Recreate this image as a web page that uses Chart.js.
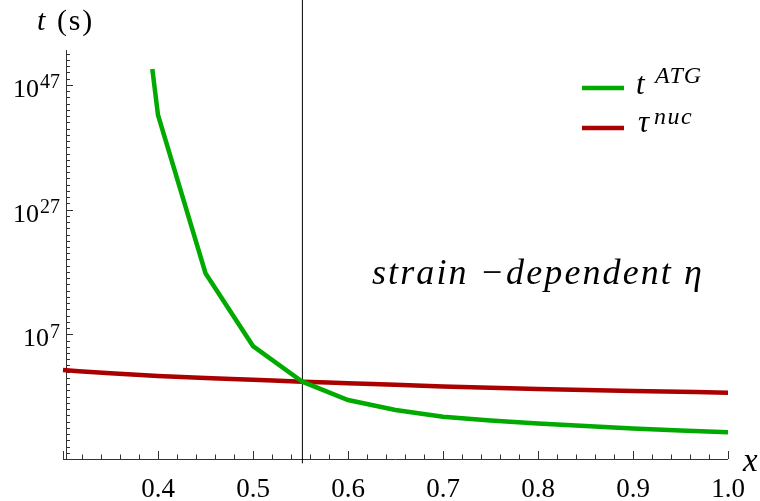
<!DOCTYPE html>
<html><head><meta charset="utf-8">
<script src="https://cdn.jsdelivr.net/npm/chart.js@4.4.1/dist/chart.umd.min.js"></script>
<style>html,body{margin:0;padding:0;background:#fff}#wrap{width:760px;height:501px}</style>
</head><body><div id="wrap"><canvas id="c" width="760" height="501"></canvas></div>
<script>
// ---- data ----
const xATG   = [0.394, 0.4, 0.45, 0.5, 0.552, 0.6, 0.65, 0.7, 0.75, 0.8, 0.85, 0.9, 0.95, 1.0];
const tATG   = [3.6e49, 1.5e42, 6.2e16, 1.3e5, 0.25, 2.9e-4, 7.1e-6, 6.0e-7, 1.5e-7, 4.9e-8, 1.95e-8, 7.8e-9, 3.7e-9, 1.9e-9];
const xNuc   = [0.3, 0.35, 0.4, 0.45, 0.5, 0.552, 0.6, 0.65, 0.7, 0.8, 0.9, 1.0];
const tauNuc = [18.2, 5.5, 2.0, 0.98, 0.51, 0.25, 0.145, 0.078, 0.044, 0.0166, 0.0079, 0.0044];
const markerX = 0.552;
const markerY = [2e-14, 1e61];
const xTickValues = [0.3, 0.4, 0.5, 0.6, 0.7, 0.8, 0.9, 1.0];
const xMinorStep = 0.02;
const yTickExponents = [7, 27, 47];
const yMinExp = -13, yMaxExp = 52;
const xMin = 0.3, xMax = 1.0;
const yMin = 1e-13, yMax = 4e52;
const annotationText = 'strain \u2212dependent \u03b7';

const GREEN = '#00aa00', RED = '#aa0000';
const SERIF = '"Liberation Serif", "Times New Roman", serif';

const pts = (xs, ys) => xs.map((x, i) => ({x: x, y: ys[i]}));

function fitText(ctx, text, x, y, width) {
  ctx.letterSpacing = '0px';
  const w = ctx.measureText(text).width;
  const n = Array.from(text).length;
  ctx.letterSpacing = ((width - w) / n).toFixed(2) + 'px';
  ctx.fillText(text, x, y);
  ctx.letterSpacing = '0px';
}

const decor = {
  id: 'decor',
  beforeDatasetsDraw(chart) {
    const ctx = chart.ctx, xs = chart.scales.x, ys = chart.scales.y, a = chart.chartArea;
    const axX = a.left + 3, axY = a.bottom;
    ctx.save();
    ctx.strokeStyle = '#333'; ctx.lineWidth = 1;
    ctx.beginPath();
    ctx.moveTo(axX + 0.5, a.top); ctx.lineTo(axX + 0.5, axY);
    ctx.moveTo(a.left, axY + 0.5); ctx.lineTo(a.right, axY + 0.5);
    ctx.stroke();
    ctx.beginPath();
    for (let k = 0; k <= 35; k++) {
      const v = xMin + k * xMinorStep;
      if (v > xMax + 1e-9) break;
      const px = Math.round(xs.getPixelForValue(v)) + 0.5;
      const major = (k % 5 === 0);
      ctx.moveTo(px, axY); ctx.lineTo(px, axY - (major ? 8 : 4.5));
    }
    for (let e = yMinExp; e <= yMaxExp; e++) {
      const py = Math.round(ys.getPixelForValue(Math.pow(10, e))) + 0.5;
      if (py < a.top - 1) continue;
      const major = yTickExponents.includes(e);
      ctx.moveTo(axX, py); ctx.lineTo(axX + (major ? 7 : 4), py);
    }
    ctx.stroke();
    ctx.restore();
  },
  afterDraw(chart) {
    const ctx = chart.ctx, ys = chart.scales.y;
    ctx.save();
    ctx.fillStyle = '#000';
    ctx.textBaseline = 'alphabetic';
    yTickExponents.forEach(e => {
      const py = ys.getPixelForValue(Math.pow(10, e));
      ctx.font = '20px ' + SERIF;
      const ex = String(e);
      const ew = ctx.measureText(ex).width;
      ctx.textAlign = 'right';
      ctx.fillText(ex, 60, py + 3.5);
      ctx.font = '26px ' + SERIF;
      ctx.fillText('10', 60 - ew - 1, py + 12);
    });
    ctx.textAlign = 'left';
    ctx.font = 'italic 30px ' + SERIF;
    ctx.fillText('t', 37, 30);
    ctx.font = '30px ' + SERIF;
    fitText(ctx, '(s)', 57, 30, 37);
    ctx.font = 'italic 33px ' + SERIF;
    ctx.fillText('x', 743, 471);
    // legend
    ctx.lineWidth = 4.5; ctx.lineCap = 'butt';
    ctx.strokeStyle = GREEN;
    ctx.beginPath(); ctx.moveTo(582, 88); ctx.lineTo(624, 88); ctx.stroke();
    ctx.strokeStyle = RED;
    ctx.beginPath(); ctx.moveTo(582, 128); ctx.lineTo(624, 128); ctx.stroke();
    ctx.font = 'italic 31px ' + SERIF;
    ctx.fillText('t', 636, 94);
    ctx.font = 'italic 24px ' + SERIF;
    fitText(ctx, 'ATG', 655, 83, 47);
    ctx.font = 'italic 31px ' + SERIF;
    ctx.fillText('\u03c4', 638, 132);
    ctx.font = 'italic 24px ' + SERIF;
    fitText(ctx, 'nuc', 654, 124, 39);
    // annotation
    ctx.font = 'italic 36px ' + SERIF;
    fitText(ctx, annotationText, 372, 284, 332);
    ctx.restore();
  }
};

new Chart(document.getElementById('c'), {
  type: 'line',
  data: {
    datasets: [
      { label: 'tATG', data: pts(xATG, tATG), borderColor: GREEN, borderWidth: 4.5, pointRadius: 0, tension: 0, fill: false, borderCapStyle: 'butt' },
      { label: 'tauNuc', data: pts(xNuc, tauNuc), borderColor: RED, borderWidth: 4.5, pointRadius: 0, cubicInterpolationMode: 'monotone', fill: false, clip: false },
      { label: 'marker', data: [{x: markerX, y: markerY[0]}, {x: markerX, y: markerY[1]}], borderColor: '#000', borderWidth: 1, pointRadius: 0, fill: false, clip: false }
    ]
  },
  options: {
    responsive: false,
    animation: false,
    devicePixelRatio: 1,
    layout: { padding: { top: 50, right: 32, left: 0, bottom: 0 } },
    plugins: { legend: { display: false }, tooltip: { enabled: false } },
    scales: {
      x: {
        type: 'linear', min: xMin, max: xMax,
        grid: { display: false }, border: { display: false },
        afterBuildTicks: s => { s.ticks = xTickValues.map(v => ({ value: v })); },
        afterFit: s => { s.height = 42; },
        ticks: {
          autoSkip: false, maxRotation: 0, padding: 7, color: '#000',
          font: { family: SERIF, size: 27 },
          callback: v => (v < 0.35 ? '' : Number(v).toFixed(1))
        }
      },
      y: {
        type: 'logarithmic', min: yMin, max: yMax,
        grid: { display: false }, border: { display: false },
        afterBuildTicks: s => { s.ticks = yTickExponents.map(e => ({ value: Math.pow(10, e) })); },
        afterFit: s => { s.width = 63; },
        ticks: { display: false }
      }
    }
  },
  plugins: [decor]
});
</script>
</body></html>
